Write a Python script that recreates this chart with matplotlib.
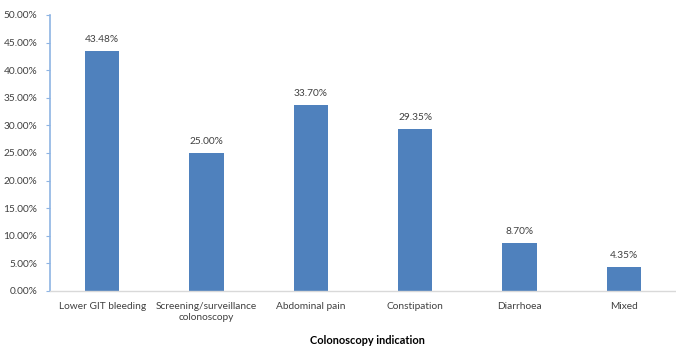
import matplotlib
matplotlib.use("Agg")
import matplotlib.pyplot as plt
from matplotlib.ticker import FuncFormatter, MultipleLocator

categories = ["Lower GIT bleeding", "Screening/surveillance\ncolonoscopy", "Abdominal pain",
              "Constipation", "Diarrhoea", "Mixed"]
values = [43.48, 25.00, 33.70, 29.35, 8.70, 4.35]
x_title = "Colonoscopy indication"

plt.rcParams['font.family'] = ['Lato', 'DejaVu Sans']

fig = plt.figure(figsize=(6.76, 3.47), dpi=100)
ax = fig.add_axes([50/676, 1-291/347, 1-50/676, (291-15)/347])

xs = range(len(categories))
bars = ax.bar(xs, values, width=0.33, color="#4F81BD", zorder=2)
for x, v in zip(xs, values):
    ax.text(x, v + 1.2, f"{v:.2f}%", ha="center", va="bottom", fontsize=7.3, color="#404040")

ax.set_xlim(-0.5, len(categories) - 0.5)
ax.set_ylim(0, 50)
ax.yaxis.set_major_locator(MultipleLocator(5))
ax.yaxis.set_major_formatter(FuncFormatter(lambda v, p: f"{v:.2f}%"))
ax.set_xticks(list(xs))
ax.set_xticklabels(categories, fontsize=7.3, color="#404040", linespacing=1.2)
ax.tick_params(axis="x", length=0, pad=8)
ax.tick_params(axis="y", length=3, width=0.8, color="#8EB4E3", labelsize=7.3, labelcolor="#404040", pad=6)

for s in ["top", "right"]:
    ax.spines[s].set_visible(False)
ax.spines["left"].set_color("#8EB4E3")
ax.spines["left"].set_linewidth(1.2)
ax.spines["bottom"].set_color("#D9D9D9")
ax.spines["bottom"].set_linewidth(1.0)

fig.text(367/676, 1-341/347, x_title, ha="center", va="center", fontsize=7.9, fontweight="bold", color="#000000")

fig.savefig("out.png", dpi=100)
